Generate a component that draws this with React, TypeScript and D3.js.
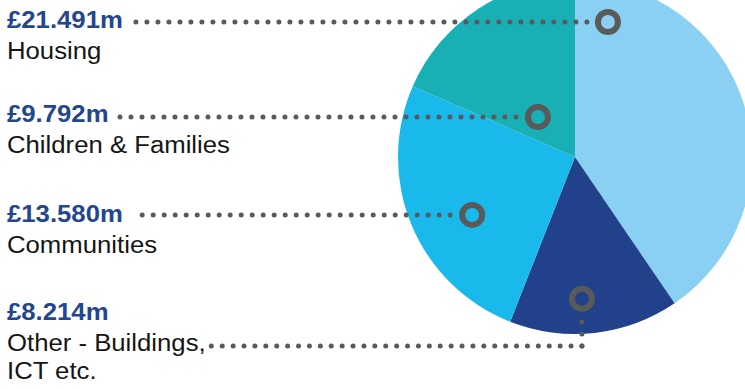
import React from "react";
import * as d3 from "d3";

const categories = ["Housing", "Other - Buildings, ICT etc.", "Communities", "Children & Families"];
const values = [21.491, 8.214, 13.58, 9.792];
const valueLabels = ["£21.491m", "£8.214m", "£13.580m", "£9.792m"];
const colors = ["#89D0F2", "#21418A", "#1AB9EC", "#18AFB5"];

const W = 745;
const H = 389;
const CX = 575;
const CY = 157;
const R = 177;
const GRAY = "#5A5A5A";
const NAVY = "#23468F";
const FONT = "'Liberation Sans', Arial, Helvetica, sans-serif";
const FS = 24.5;
const SX = 1.05;

// annotation layout (marker angle in degrees clockwise from top, radius)
const markers = [
  { ang: 13.7, rad: 139, lineStartX: 133, gap: 21, step: 11, labelLines: ["Housing"], valueY: 28, textY: 59 },
  { ang: 177.2, rad: 142, lineStartX: 210, gap: 23, step: 10.9, labelLines: ["Other - Buildings,", "ICT etc."], valueY: 320, textY: 351, elbowY: 346 },
  { ang: 240.6, rad: 118, lineStartX: 139, gap: 22, step: 11, labelLines: ["Communities"], valueY: 222, textY: 253 },
  { ang: 317.2, rad: 54.5, lineStartX: 117, gap: 22, step: 11, labelLines: ["Children & Families"], valueY: 122, textY: 153 },
];

export default function App() {
  const pie = d3.pie<number>().sort(null).value((d) => d);
  const arcs = pie(values);
  const arc = d3.arc<d3.PieArcDatum<number>>().innerRadius(0).outerRadius(R);
  const dot = { fill: "none", stroke: GRAY, strokeWidth: 5, strokeLinecap: "round" as const };

  return (
    <svg
      width={W}
      height={H}
      style={{ position: "absolute", left: 0, top: 0, background: "#fff" }}
      fontFamily={FONT}
    >
      <g transform={`translate(${CX},${CY})`}>
        {arcs.map((a, i) => (
          <path key={i} d={arc(a) || ""} fill={colors[i]} />
        ))}
      </g>
      {markers.map((m, i) => {
        const t = (m.ang * Math.PI) / 180;
        const mx = CX + m.rad * Math.sin(t);
        const my = CY - m.rad * Math.cos(t);
        const ringR = 10;
        return (
          <g key={i}>
            {m.elbowY !== undefined ? (
              <>
                <path d={`M${mx},${m.elbowY}H${m.lineStartX}`} {...dot} strokeDasharray={`0 ${m.step}`} />
                <path d={`M${mx},${m.elbowY}V${my + m.gap}`} {...dot} strokeDasharray="0 12" />
              </>
            ) : (
              <path d={`M${mx - m.gap},${my}H${m.lineStartX}`} {...dot} strokeDasharray={`0 ${m.step}`} />
            )}
            <circle cx={mx} cy={my} r={ringR} fill="none" stroke={GRAY} strokeWidth={6} />
            <g transform={`translate(7,0) scale(${SX},1)`}>
              <text x={0} y={m.valueY} fontSize={FS} fontWeight="bold" fill={NAVY}>
                {valueLabels[i]}
              </text>
              {m.labelLines.map((l, j) => (
                <text key={j} x={0} y={m.textY + j * 28} fontSize={FS} fill="#151515">
                  {l}
                </text>
              ))}
            </g>
          </g>
        );
      })}
    </svg>
  );
}
